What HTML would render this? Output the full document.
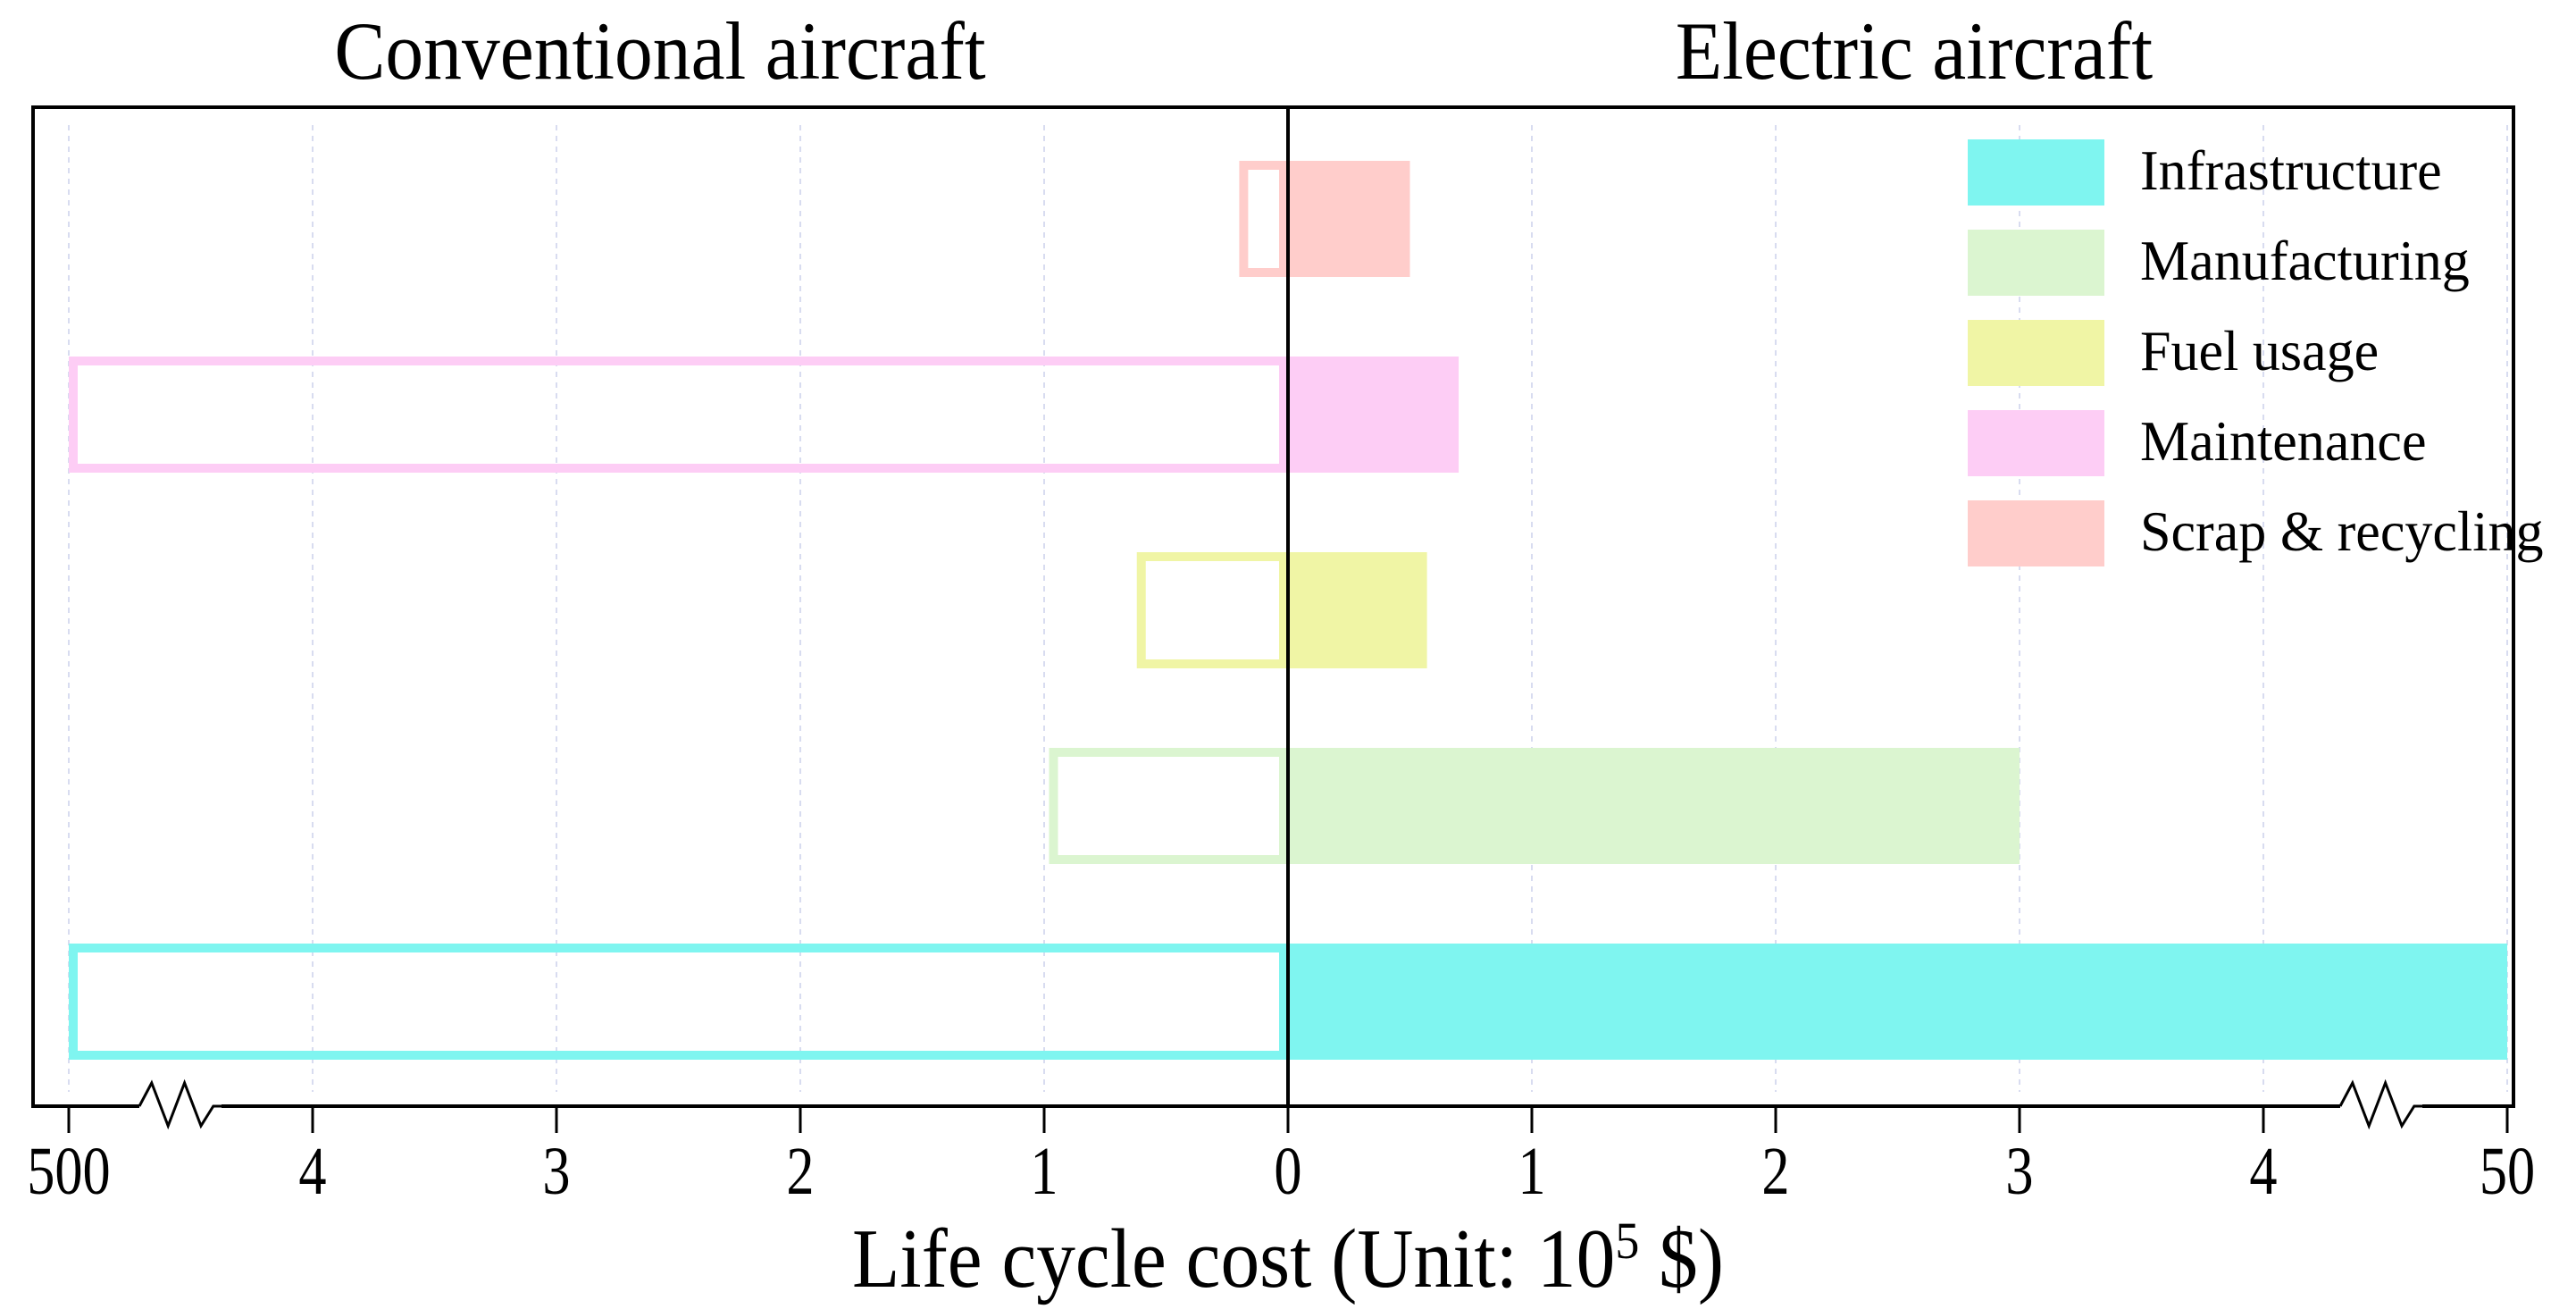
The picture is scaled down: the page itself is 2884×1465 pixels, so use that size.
<!DOCTYPE html>
<html><head><meta charset="utf-8"><style>
html,body{margin:0;padding:0;background:#fff;}
svg{display:block;font-family:"Liberation Serif",serif;}
.cond{transform:scaleX(0.82);transform-box:fill-box;transform-origin:center;}
</style></head><body>
<svg id="chart" width="2884" height="1465" viewBox="0 0 2884 1465" xmlns="http://www.w3.org/2000/svg">
<text x="739" y="88" font-size="92" text-anchor="middle" class="cond" style="transform:scaleX(0.93)">Conventional aircraft</text>
<text x="2143" y="88" font-size="92" text-anchor="middle" class="cond" style="transform:scaleX(0.93)">Electric aircraft</text>
<g id="grid"></g>
<g id="bars"></g>
<rect x="37" y="120" width="2777" height="1118" fill="none" stroke="#000" stroke-width="4"/>
<line x1="1442" y1="120" x2="1442" y2="1238" stroke="#000" stroke-width="4"/>
<g id="axis"></g>
<text x="1442" y="1440" font-size="94" text-anchor="middle" class="cond" style="transform:scaleX(0.93)">Life cycle cost (Unit: 10<tspan dy="-32" font-size="58">5</tspan><tspan dy="32"> $)</tspan></text>
<g id="legend"></g>
</svg>
<script>
const categories = ["Infrastructure","Manufacturing","Fuel usage","Maintenance","Scrap & recycling"];
const colors = ["#7ff5f0","#dbf5d0","#f0f5a5","#fdcdf5","#ffcdcb"];
const electricValues = [50, 3.0, 0.57, 0.7, 0.5];
const conventionalValues = [500, 0.98, 0.62, 500, 0.2];
const leftTickLabels = ["0","1","2","3","4","500"];
const rightTickLabels = ["0","1","2","3","4","50"];
const NS="http://www.w3.org/2000/svg";
const X0=1442, UNIT=273;
function pos(v){return v>5?5:v;}
function xRight(v){return X0+pos(v)*UNIT;}
function xLeft(v){return X0-pos(v)*UNIT;}
function yBand(i){return 1056-i*219;}
const BH=130;
function mk(tag,attrs,parent){const e=document.createElementNS(NS,tag);for(const k in attrs)e.setAttribute(k,attrs[k]);parent.appendChild(e);return e;}
const grid=document.getElementById('grid'),bars=document.getElementById('bars'),axis=document.getElementById('axis'),legend=document.getElementById('legend');
for(let t=1;t<=5;t++){
  [xLeft(t),xRight(t)].forEach((x)=>{
    const g=mk('line',{x1:x,y1:140,x2:x,y2:1222,stroke:'#d8dcf0','stroke-width':2,'stroke-dasharray':'6,6'},grid);
    
    
  });
}
categories.forEach((c,i)=>{
  const y=yBand(i);
  const r=mk('rect',{x:X0,y:y,width:xRight(electricValues[i])-X0,height:BH,fill:colors[i]},bars);
  
  
  const lx=xLeft(conventionalValues[i]);
  const o=mk('rect',{x:lx+5,y:y+5,width:X0-lx-10,height:BH-10,fill:'none',stroke:colors[i],'stroke-width':10},bars);
  
  
});
for(let t=0;t<=5;t++){
  const pairs=[[xLeft(t),leftTickLabels[t]],[xRight(t),rightTickLabels[t]]];
  pairs.forEach(([x,l],j)=>{
    if(t===0&&j===1)return;
    const tk=mk('line',{x1:x,y1:1238,x2:x,y2:1268,stroke:'#000','stroke-width':3},axis);
    
    
    const tx=mk('text',{x:x,y:1336,'font-size':76,'text-anchor':'middle','class':'cond'},axis);
    tx.textContent=l;
    
    
  });
}
[[156,248],[2620,2712]].forEach(([a,b])=>{
  const w=b-a;
  mk('rect',{x:a,y:1232,width:w,height:12,fill:'#fff'},axis);
  const p=mk('polyline',{points:`${a},1238 ${a+w*0.15},1212 ${a+w*0.35},1260 ${a+w*0.55},1212 ${a+w*0.75},1260 ${a+w*0.9},1238 ${b},1238`,fill:'none',stroke:'#000','stroke-width':3},axis);
  
  
});
categories.forEach((c,i)=>{
  const y=156+i*101;
  const b=mk('rect',{x:2203,y:y,width:153,height:74,fill:colors[i]},legend);
  
  
  const t=mk('text',{x:2396,y:y+56,'font-size':64,'textLength':0},legend);
  t.removeAttribute('textLength');
  t.setAttribute('style','transform:scaleX(0.97);transform-box:fill-box;transform-origin:left center;');
  t.textContent=c;
  
  
});
</script>
</body></html>
